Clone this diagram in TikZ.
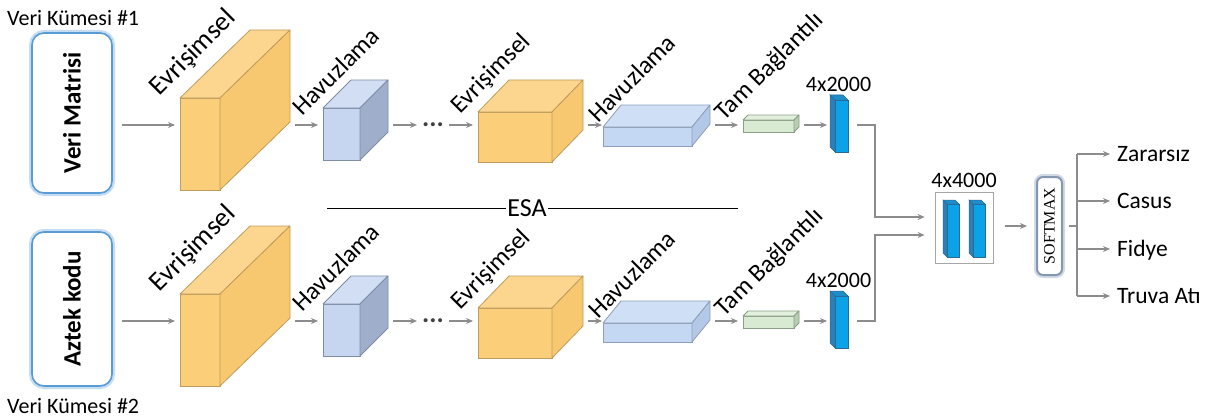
\documentclass[tikz,border=0pt]{standalone}
\usepackage{fontspec}
\setmainfont{Carlito}
\newfontfamily\serifyazi{Liberation Serif}
\usetikzlibrary{arrows.meta, positioning, calc}

\definecolor{gri}{HTML}{8C8C8C}
\definecolor{koyu}{HTML}{404040}
\definecolor{turon}{HTML}{FBCF7A}
\definecolor{turust}{HTML}{FCD68E}
\definecolor{turyan}{HTML}{F7C86F}
\definecolor{turcz}{HTML}{BE9C5E}
\definecolor{mavon}{HTML}{C6D6F1}
\definecolor{mavust}{HTML}{D2DEF4}
\definecolor{mavyan}{HTML}{9FAFCB}
\definecolor{mavcz}{HTML}{7E8DA6}
\definecolor{duzon}{HTML}{C5D8F3}
\definecolor{duzust}{HTML}{CFDFF5}
\definecolor{duzyan}{HTML}{B3C8E6}
\definecolor{duzcz}{HTML}{8D9EB8}
\definecolor{yason}{HTML}{D8EAD2}
\definecolor{yasust}{HTML}{E2EFDD}
\definecolor{yasyan}{HTML}{B8CDB2}
\definecolor{yascz}{HTML}{8AA086}
\definecolor{cubon}{HTML}{0BA2E8}
\definecolor{cubyan}{HTML}{2B80B8}
\definecolor{cubcz}{HTML}{2A6A96}
\definecolor{girdicz}{HTML}{5B9BD5}
\definecolor{girdiisik}{HTML}{C5DDF3}
\definecolor{softcz}{HTML}{8497B0}
\definecolor{softisik}{HTML}{D3DAE5}
\definecolor{kutucz}{HTML}{A6A6A6}

% katman kutusu: ad, on yuz sol ust, genislik, yukseklik, derinlik x, derinlik y, renk
\newcommand*{\kutu}[7]{%
  \node[draw=#7cz, fill=#7on, line width=0.8pt, inner sep=0pt, outer sep=0pt,
        anchor=north west, minimum width=#3pt, minimum height=#4pt] (#1) at #2 {};
  \filldraw[fill=#7ust, draw=#7cz, line width=0.8pt, line join=round]
    (#1.north west) -- ++(#5pt,#6pt) -- ++(#3pt,0pt) -- (#1.north east) -- cycle;
  \filldraw[fill=#7yan, draw=#7cz, line width=0.8pt, line join=round]
    (#1.north east) -- ++(#5pt,#6pt) -- ++(0pt,-#4pt) -- (#1.south east) -- cycle;
  \coordinate (#1-r) at ($(#1.south east)+(#5pt,#6pt)$);
}
% ince cubuk: ad, on yuz sol ust, genislik, yukseklik, derinlik
\newcommand*{\cubuk}[5]{%
  \node[draw=cubcz, fill=cubon, line width=0.5pt, inner sep=0pt, outer sep=0pt,
        anchor=north west, minimum width=#3pt, minimum height=#4pt] (#1) at #2 {};
  \filldraw[fill=cubyan, draw=cubcz, line width=0.5pt]
    (#1.north west) -- ++(-#5pt,#5pt) -- ++(0pt,-#4pt) -- (#1.south west) -- cycle;
  \filldraw[fill=cubyan!60!cubon, draw=cubcz, line width=0.5pt]
    (#1.north west) -- ++(-#5pt,#5pt) -- ++(#3pt,0pt) -- (#1.north east) -- cycle;
}

\begin{document}
\begin{tikzpicture}[
    x=1pt, y=-1pt, >={Stealth[length=7pt,width=6pt]},
    yazi/.style={font=\fontsize{22}{26}\selectfont, inner sep=0pt},
    egik/.style={inner sep=0pt, rotate=45, font=\fontsize{25}{30}\selectfont},
    nokta/.style={inner sep=0pt, text=koyu, font=\bfseries\fontsize{27}{30}\selectfont},
    cikti/.style={anchor=west, inner sep=0pt, font=\fontsize{23.5}{28}\selectfont,
        text height=15pt, text depth=0pt},
    ok/.style={->, draw=gri, line width=1.3pt, shorten <=5pt, shorten >=5pt},
    cizgi/.style={draw=gri, line width=1.3pt},
    girdi/.style={draw=girdicz, line width=1.6pt, fill=white, rounded corners=12pt,
        inner sep=0pt, rotate=90, minimum width=160pt, minimum height=80pt,
        font=\bfseries\fontsize{25}{30}\selectfont,
        preaction={draw=girdiisik, line width=6pt}},
    softmax/.style={draw=softcz, line width=2pt, fill=white, rounded corners=6pt,
        inner sep=0pt, rotate=90, minimum width=98pt, minimum height=25pt,
        font=\serifyazi\fontsize{16}{18}\selectfont,
        preaction={draw=softisik, line width=6pt}},
    ]
  \useasboundingbox (0,0) rectangle (1224,420);

  % ust satir
  \coordinate (satirA) at (0,125);
  \node[yazi, anchor=base west] (kumeA) at (7,26) {Veri Kümesi \#1};
  \node[girdi] (girdiA) at (72,113) {Veri Matrisi};
  \kutu{evA}{(180,98)}{40}{92}{70}{68}{tur}
  \kutu{havA}{(323,108)}{37}{52}{28}{28}{mav}
  \node[nokta] (noktaA) at (433,125) {...};
  \kutu{ev2A}{(478,112)}{74}{50}{31}{32}{tur}
  \kutu{hav2A}{(603,127)}{89}{19}{18}{22}{duz}
  \kutu{tamA}{(743,120)}{51}{12}{5}{5}{yas}
  \cubuk{cubukA}{(835,100)}{13}{52}{5}
  \node[yazi, above=8pt of cubukA, xshift=-3pt] (boyutA) {4x2000};

  \node[egik, font=\fontsize{27}{32}\selectfont] (evyA) at (193,53) {Evrişimsel};
  \node[egik] (havyA) at (336,71) {Havuzlama};
  \node[egik] (evy2A) at (491,74) {Evrişimsel};
  \node[egik] (havy2A) at (632,78) {Havuzlama};
  \node[egik] (tamyA) at (770,67) {Tam Bağlantılı};

  \draw[ok, shorten <=9pt] (girdiA.south |- satirA) -- (evA.west |- satirA);
  \draw[ok] (evA-r |- satirA) -- (havA.west |- satirA);
  \draw[ok] (havA-r |- satirA) -- (noktaA.west |- satirA);
  \draw[ok] (noktaA.east |- satirA) -- (ev2A.west |- satirA);
  \draw[ok, shorten >=1pt] (ev2A-r |- satirA) -- (hav2A.west |- satirA);
  \draw[ok] (hav2A-r |- satirA) -- (tamA.west |- satirA);
  \draw[ok, shorten >=8pt] (tamA-r |- satirA) -- (cubukA.west |- satirA);

  % ayirici
  \node[yazi, font=\fontsize{26}{30}\selectfont, inner sep=1pt] (esa) at (527,208) {ESA};
  \coordinate (esaSol) at (327,208);
  \coordinate (esaSag) at (738,208);
  \draw[line width=0.9pt] (esaSol) -- (esa.west);
  \draw[line width=0.9pt] (esa.east) -- (esaSag);

  % alt satir
  \coordinate (satirB) at (0,321);
  \node[yazi, anchor=base west] (kumeB) at (7,413) {Veri Kümesi \#2};
  \node[girdi, minimum width=154pt] (girdiB) at (72,309) {Aztek kodu};
  \kutu{evB}{(180,294)}{40}{92}{70}{68}{tur}
  \kutu{havB}{(323,304)}{37}{52}{28}{28}{mav}
  \node[nokta] (noktaB) at (433,321) {...};
  \kutu{ev2B}{(478,308)}{74}{50}{31}{32}{tur}
  \kutu{hav2B}{(603,323)}{89}{19}{18}{22}{duz}
  \kutu{tamB}{(743,316)}{51}{12}{5}{5}{yas}
  \cubuk{cubukB}{(835,296)}{13}{52}{5}
  \node[yazi, above=8pt of cubukB, xshift=-3pt] (boyutB) {4x2000};

  \node[egik, font=\fontsize{27}{32}\selectfont] (evyB) at (193,249) {Evrişimsel};
  \node[egik] (havyB) at (336,267) {Havuzlama};
  \node[egik] (evy2B) at (491,270) {Evrişimsel};
  \node[egik] (havy2B) at (632,274) {Havuzlama};
  \node[egik] (tamyB) at (770,263) {Tam Bağlantılı};

  \draw[ok, shorten <=9pt] (girdiB.south |- satirB) -- (evB.west |- satirB);
  \draw[ok] (evB-r |- satirB) -- (havB.west |- satirB);
  \draw[ok] (havB-r |- satirB) -- (noktaB.west |- satirB);
  \draw[ok] (noktaB.east |- satirB) -- (ev2B.west |- satirB);
  \draw[ok, shorten >=1pt] (ev2B-r |- satirB) -- (hav2B.west |- satirB);
  \draw[ok] (hav2B-r |- satirB) -- (tamB.west |- satirB);
  \draw[ok, shorten >=8pt] (tamB-r |- satirB) -- (cubukB.west |- satirB);

  % birlestirme ve siniflama
  \node[draw=kutucz, line width=0.8pt, inner sep=0pt, minimum width=58pt,
        minimum height=71pt] (birles) at (964,227.5) {};
  \node[yazi, above=4pt of birles] (boyutC) {4x4000};
  \cubuk{ic1}{(947,204)}{12}{53}{4}
  \cubuk{ic2}{(973,204)}{12}{53}{4}

  \coordinate (dugumA) at (875,125);
  \coordinate (dugumB) at (875,321);
  \coordinate (girisA) at (0,217);
  \coordinate (girisB) at (0,235);
  \draw[ok, shorten <=9pt, shorten >=10pt] (cubukA.east |- satirA) -- (dugumA) |- (birles.west |- girisA);
  \draw[ok, shorten <=9pt, shorten >=10pt] (cubukB.east |- satirB) -- (dugumB) |- (birles.west |- girisB);

  \node[softmax] (softmax) at (1049.5,226) {SOFTMAX};
  \draw[ok, shorten <=12pt, shorten >=9pt] (birles.east |- softmax) -- (softmax.north);

  \coordinate (dal) at (1077,226);
  \node[cikti] (zarar) at (1117,154) {Zararsız};
  \node[cikti] (casus) at (1117,201) {Casus};
  \node[cikti] (fidye) at (1117,249) {Fidye};
  \node[cikti] (truva) at (1117,296) {Truva Atı};
  \draw[cizgi, shorten <=6pt] (softmax.south) -- (dal);
  \draw[cizgi] (dal |- zarar) -- (dal |- truva);
  \draw[ok, shorten <=0pt, shorten >=7pt] (dal |- zarar) -- (zarar.west);
  \draw[ok, shorten <=0pt, shorten >=7pt] (dal |- casus) -- (casus.west);
  \draw[ok, shorten <=0pt, shorten >=7pt] (dal |- fidye) -- (fidye.west);
  \draw[ok, shorten <=0pt, shorten >=7pt] (dal |- truva) -- (truva.west);
\end{tikzpicture}
\end{document}
